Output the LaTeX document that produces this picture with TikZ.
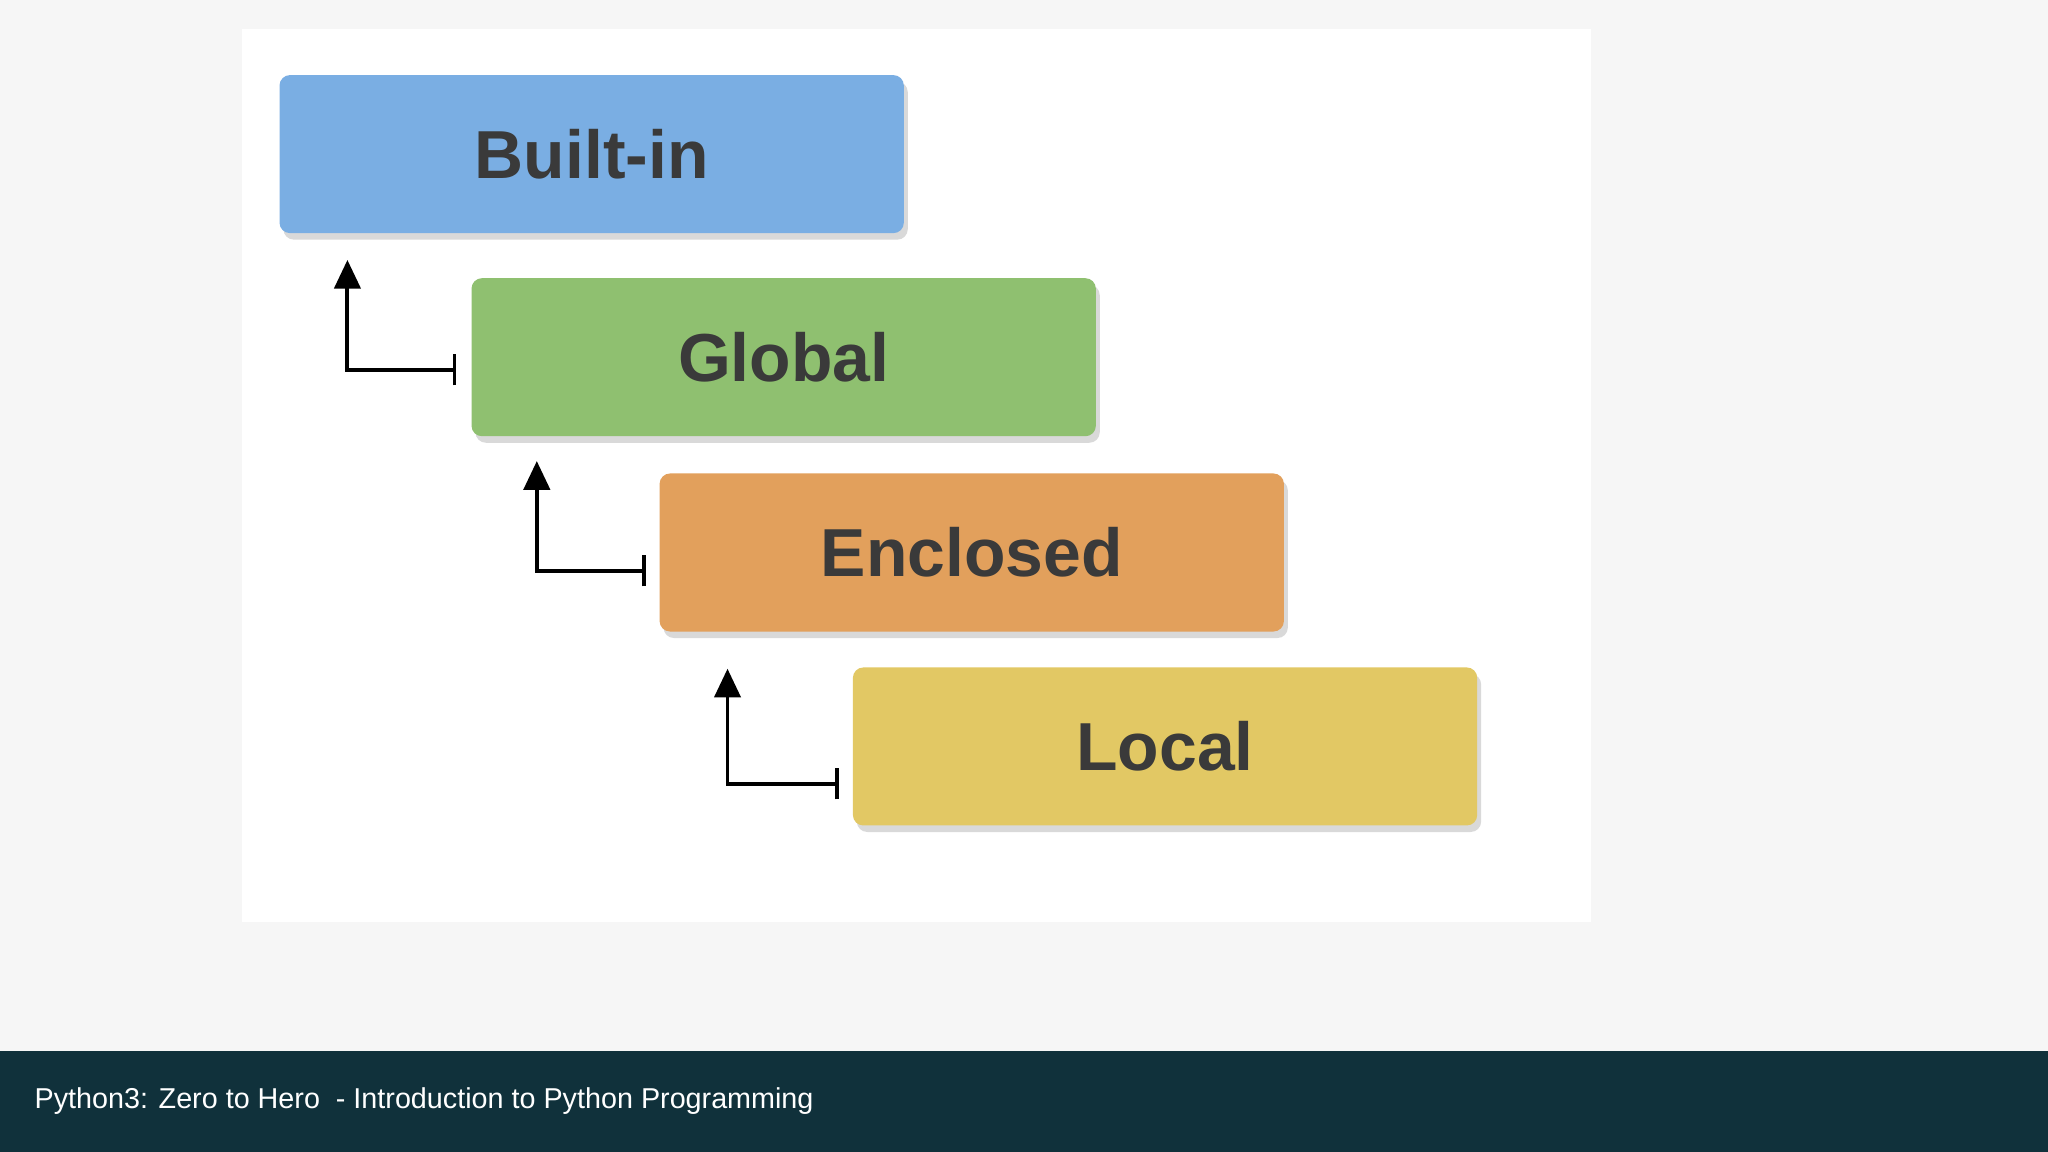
\documentclass[tikz,border=0pt]{standalone}
\usepackage{fontspec}
\setmainfont{Liberation Sans}
\usetikzlibrary{arrows.meta,shadows}
\definecolor{bgc}{HTML}{F6F6F6}
\definecolor{barc}{HTML}{10313B}
\definecolor{bluec}{HTML}{7AAEE3}
\definecolor{greenc}{HTML}{8FC070}
\definecolor{orangec}{HTML}{E2A05C}
\definecolor{yellowc}{HTML}{E2C864}
\definecolor{txtc}{HTML}{3A3A3A}
\tikzset{
  scopebox/.style={rounded corners=8pt, minimum width=478pt, minimum height=121pt, inner sep=0pt,
    font=\fontsize{52}{60}\selectfont\bfseries, text=txtc,
    drop shadow={shadow xshift=3pt, shadow yshift=-5pt, opacity=0.15, fill=black}},
  lookup/.style={line width=3pt, -{Triangle[width=20pt,length=22pt]}},
}
\begin{document}
\begin{tikzpicture}[x=1pt,y=-1pt]
\fill[bgc] (0,0) rectangle (1568,882);
\fill[white] (185,22) rectangle (1218,706);
\fill[barc] (0,805) rectangle (1568,882);
\node[anchor=west, text=white, font=\fontsize{22}{26}\selectfont] (foot) at (23,843) {Python3: Zero to Hero \ - Introduction to Python Programming};
\node[scopebox, fill=bluec] (b) at (453,118) {Built-in};
\node[scopebox, fill=greenc] (g) at (600,273.5) {Global};
\node[scopebox, fill=orangec] (e) at (744,423) {Enclosed};
\node[scopebox, fill=yellowc] (l) at (892,571.5) {Local};
\coordinate (g1) at (348,283); \coordinate (g2) at (266,283); \coordinate (g3) at (266,199);
\coordinate (e1) at (493,437); \coordinate (e2) at (411,437); \coordinate (e3) at (411,353);
\coordinate (l1) at (641,600); \coordinate (l2) at (557,600); \coordinate (l3) at (557,512);
\foreach \a in {g,e,l}{
  \draw[lookup] (\a1) -- (\a2) -- (\a3);
  \draw[line width=3pt] ([yshift=-12pt]\a1) -- ([yshift=12pt]\a1);
}
\end{tikzpicture}
\end{document}
